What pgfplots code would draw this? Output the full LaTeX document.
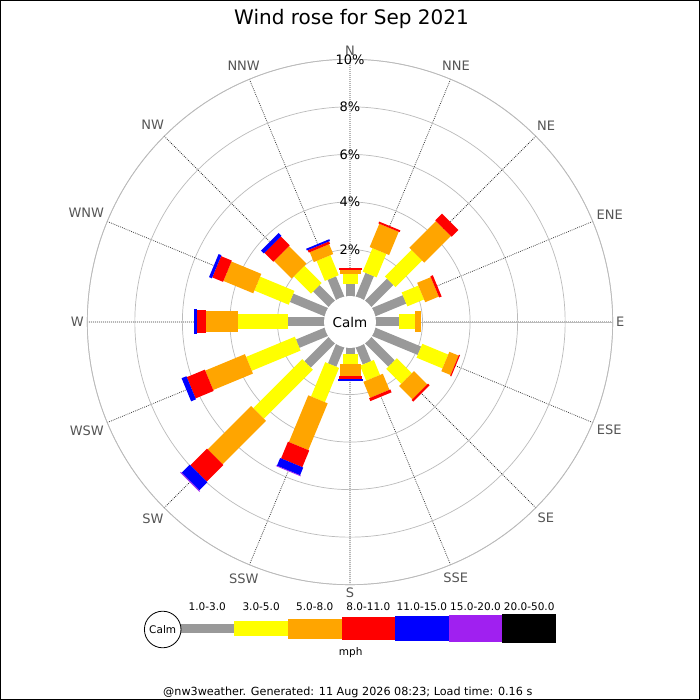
\documentclass[border=0pt]{standalone}
\usepackage{fontspec}
\setmainfont{DejaVu Sans}
\usepackage{pgfplots}
\pgfplotsset{compat=1.18}
\usepgfplotslibrary{polar}
\usepackage{pgfplotstable}

\definecolor{cgray}{HTML}{999999}
\definecolor{cyellow}{HTML}{FFFF00}
\definecolor{corange}{HTML}{FFA500}
\definecolor{cred}{HTML}{FF0000}
\definecolor{cblue}{HTML}{0000FF}
\definecolor{cpurple}{HTML}{A020F0}
\definecolor{labgray}{HTML}{555555}
\definecolor{ringgray}{HTML}{BBBBBB}

% the 0% ring sits 25px out from the centre (under the calm disc)
\newcommand\calmoff{1.052}

% frequency (%) of each speed class per direction, dir = compass bearing
\pgfplotstableread{
dir   g     y     o     r     b     p
0     0.55  0.42  0.17  0.07  0     0
22.5  1.11  1.07  1.06  0.08  0     0
45    1.34  1.58  1.59  0.40  0     0
67.5  1.43  0.76  0.62  0.11  0     0
90    1.02  0.68  0.23  0     0     0
112.5 2.11  1.18  0.42  0.05  0     0
135   1.42  0.89  0.79  0.10  0     0
157.5 0.81  0.68  0.73  0.13  0     0
180   0.31  0.41  0.50  0.14  0.06  0
202.5 0.91  1.56  2.13  0.76  0.35  0.03
225   1.47  2.92  2.58  0.99  0.48  0.04
247.5 1.33  2.22  1.81  0.82  0.22  0
270   1.54  2.13  1.34  0.39  0.10  0
292.5 1.61  1.56  1.36  0.49  0.13  0
315   0.95  1.03  1.04  0.53  0.17  0
337.5 0.95  0.91  0.45  0.11  0.08  0
}\rose

\begin{document}
\begin{tikzpicture}
\useasboundingbox (0,0) rectangle (700bp,700bp);
\fill[white] (0,0) rectangle (700bp,700bp);

\node[anchor=base, font=\fontsize{20bp}{24bp}\selectfont] at (351.5bp,675.5bp) {Wind rose for Sep 2021};

\begin{polaraxis}[
  at={(350bp,378bp)}, anchor=origin,
  scale only axis, width=525.4bp, height=525.4bp,
  ymin=0, ymax=11.052,
  xtick={0,22.5,...,337.5},
  xticklabels={E,ENE,NE,NNE,N,NNW,NW,WNW,W,WSW,SW,SSW,S,SSE,SE,ESE},
  xticklabel style={font=\fontsize{13bp}{15bp}\selectfont, text=labgray},
  ytick={3.052,5.052,7.052,9.052,11.052},
  yticklabels={},
  major tick length=0pt,
  xmajorgrids, ymajorgrids,
  major x grid style={black!80, dash pattern=on 0.8bp off 1.2bp, line width=0.75bp},
  major y grid style={ringgray, line width=0.7bp},
  axis line style={ringgray, line width=0.7bp},
  x filter/.expression={mod(450-x,360)},
  y filter/.expression={y+\calmoff},
  clip=false,
]
\pgfplotstablegetrowsof{\rose}
\pgfmathtruncatemacro\lastrow{\pgfplotsretval-1}
\foreach \i in {0,...,\lastrow}{%
  \pgfplotstablegetelem{\i}{dir}\of\rose
  \xdef\dirval{\pgfplotsretval}%
  \gdef\rstart{0}%
  \foreach \col/\clr/\w in {g/cgray/9,y/cyellow/15,o/corange/21,r/cred/23,b/cblue/25,p/cpurple/27}{%
    \pgfplotstablegetelem{\i}{\col}\of\rose
    \pgfmathsetmacro\seg{\pgfplotsretval}%
    \pgfmathsetmacro\rstop{\rstart+\seg}%
    \ifdim\seg pt>0pt
      \edef\temp{\noexpand\addplot[draw=\clr, line width=\w bp, line cap=butt, forget plot]
        coordinates {(\dirval,\rstart) (\dirval,\rstop)};}%
      \temp
    \fi
    \xdef\rstart{\rstop}%
  }%
}
\fill[white] (axis cs:0,0) circle[radius=26bp];
\node[font=\fontsize{13.5bp}{15bp}\selectfont] at (axis cs:0,0) {Calm};
\node[font=\fontsize{13bp}{15bp}\selectfont] at (axis cs:90,3.052) {2\%};
\node[font=\fontsize{13bp}{15bp}\selectfont] at (axis cs:90,5.052) {4\%};
\node[font=\fontsize{13bp}{15bp}\selectfont] at (axis cs:90,7.052) {6\%};
\node[font=\fontsize{13bp}{15bp}\selectfont] at (axis cs:90,9.052) {8\%};
\node[font=\fontsize{13bp}{15bp}\selectfont] at (axis cs:90,11.052) {10\%};
\end{polaraxis}

% speed key
\begin{scope}[font=\fontsize{10.5bp}{12bp}\selectfont]
\fill[cgray]   (180bp,66.5bp)   rectangle (234.3bp,75.5bp);
\fill[cyellow] (234.3bp,63.5bp) rectangle (287.9bp,78.5bp);
\fill[corange] (287.9bp,61bp)   rectangle (341.5bp,81bp);
\fill[cred]    (341.5bp,59.5bp) rectangle (395.1bp,82.5bp);
\fill[cblue]   (395.1bp,58.5bp) rectangle (448.7bp,83.5bp);
\fill[cpurple] (448.7bp,57.5bp) rectangle (502.3bp,84.5bp);
\fill[black]   (502.3bp,56.5bp) rectangle (556bp,85.5bp);
\draw[black, fill=white, line width=0.8bp] (162.7bp,70.5bp) circle[radius=18.3bp];
\node at (162.7bp,70.5bp) {Calm};
\node[anchor=base] at (207.2bp,89.3bp) {1.0-3.0};
\node[anchor=base] at (261.1bp,89.3bp) {3.0-5.0};
\node[anchor=base] at (314.7bp,89.3bp) {5.0-8.0};
\node[anchor=base] at (368.3bp,89.3bp) {8.0-11.0};
\node[anchor=base] at (421.9bp,89.3bp) {11.0-15.0};
\node[anchor=base] at (475.5bp,89.3bp) {15.0-20.0};
\node[anchor=base] at (529.2bp,89.3bp) {20.0-50.0};
\node[anchor=base] at (350.7bp,44bp) {mph};
\node[anchor=base, font=\fontsize{11.2bp}{13bp}\selectfont] at (347.8bp,4.7bp) {@nw3weather. Generated: 11 Aug 2026 08:23; Load time: 0.16 s};
\end{scope}

\draw[black, line width=1bp] (0.5bp,0.5bp) rectangle (699.5bp,699.5bp);
\end{tikzpicture}
\end{document}
